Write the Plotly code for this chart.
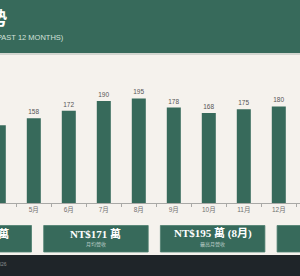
import plotly.graph_objects as go

# ---- data ----
months = ["4月", "5月", "6月", "7月", "8月", "9月", "10月", "11月", "12月"]
revenue = [145, 158, 172, 190, 195, 178, 168, 175, 180]

kpi_values = ["NT$2,052 萬", "NT$171 萬", "NT$195 萬 (8月)", "+12.5%"]
kpi_labels = ["年度總營收", "月均營收", "最高月營收", "年增率"]

title_text = "月營收趨勢"
subtitle_text = "MONTHLY REVENUE (PAST 12 MONTHS)"
footer_text = "資料來源：內部財務報表 · 2026"

# ---- style ----
W, H = 300, 276
PLOT_TOP, PLOT_BOTTOM = 85, 203
GREEN = "#376a5b"
CREAM = "#f5f2ed"
DARK = "#1f2529"
CJK = "Liberation Sans, Noto Sans CJK TC, sans-serif"
SERIF = "Liberation Serif, Noto Sans CJK TC, serif"


def px(x):
    return x / W


def py(y):
    return (PLOT_BOTTOM - y) / (PLOT_BOTTOM - PLOT_TOP)


fig = go.Figure()
fig.add_trace(go.Bar(
    x=months, y=revenue,
    marker=dict(color=GREEN, line=dict(width=0)),
    text=[str(v) for v in revenue],
    textposition="outside",
    textfont=dict(size=6.5, color="#555555", family=CJK),
    cliponaxis=False,
    hoverinfo="skip",
))

shapes = []
# header band
shapes.append(dict(type="rect", xref="paper", yref="paper", x0=px(-5), x1=px(W + 5),
                   y0=py(53), y1=py(-5), fillcolor=GREEN, line=dict(width=0), layer="below"))
shapes.append(dict(type="rect", xref="paper", yref="paper", x0=px(-5), x1=px(W + 5),
                   y0=py(55), y1=py(53), fillcolor="#d3d6d0", line=dict(width=0), layer="below"))
# footer band
shapes.append(dict(type="rect", xref="paper", yref="paper", x0=px(-5), x1=px(W + 5),
                   y0=py(H + 5), y1=py(255), fillcolor=DARK, line=dict(width=0), layer="below"))

annotations = []
# KPI boxes
box_w, pitch, first_left = 104.5, 116.7, -73.0
for i, (v, lab) in enumerate(zip(kpi_values, kpi_labels)):
    x0 = first_left + i * pitch
    x1 = x0 + box_w
    cx = (x0 + x1) / 2
    shapes.append(dict(type="rect", xref="paper", yref="paper", x0=px(x0), x1=px(x1),
                       y0=py(252), y1=py(225.5), fillcolor=GREEN,
                       line=dict(width=0.8, color="#4d7d6f")))
    annotations.append(dict(xref="paper", yref="paper", x=px(cx), y=py(233.5),
                            text=f"<b>{v}</b>", showarrow=False, xanchor="center", yanchor="middle",
                            font=dict(family=SERIF, size=11, color="#ffffff")))
    annotations.append(dict(xref="paper", yref="paper", x=px(cx), y=py(244.5),
                            text=lab, showarrow=False, xanchor="center", yanchor="middle",
                            font=dict(family=CJK, size=5, color="#b9cdc6")))

# title & subtitle (cropped at the left edge as in the reference)
annotations.append(dict(xref="paper", yref="paper", x=px(8.5), y=py(19), text=f"<b>{title_text}</b>",
                        showarrow=False, xanchor="right", yanchor="middle",
                        font=dict(family=CJK, size=18, color="#ffffff")))
annotations.append(dict(xref="paper", yref="paper", x=px(66), y=py(37.5), text=subtitle_text,
                        showarrow=False, xanchor="right", yanchor="middle",
                        font=dict(family=CJK, size=7.5, color="#d2e0da")))
annotations.append(dict(xref="paper", yref="paper", x=px(8.5), y=py(264), text=footer_text,
                        showarrow=False, xanchor="right", yanchor="middle",
                        font=dict(family=CJK, size=5, color="#8a8f92")))

# visible category window: 4月 centre at x≈-1.2 px, 35 px per category
slot = 35.0
c0 = -1.2
x_range = [(0 - c0) / slot, (W - c0) / slot]

fig.update_layout(
    width=W, height=H,
    margin=dict(l=0, r=0, t=PLOT_TOP, b=H - PLOT_BOTTOM, pad=0),
    paper_bgcolor=CREAM, plot_bgcolor=CREAM,
    showlegend=False,
    bargap=0.6,
    shapes=shapes,
    annotations=annotations,
    xaxis=dict(type="category", range=x_range, showline=True, linecolor="#a9a9a6", linewidth=1,
               ticks="outside", tickson="boundaries", ticklen=3, tickcolor="#a9a9a6",
               tickfont=dict(family=CJK, size=6.5, color="#707070"), showgrid=False,
               automargin=False, fixedrange=True),
    yaxis=dict(range=[0, 220], visible=False, showgrid=False, zeroline=False,
               automargin=False, fixedrange=True),
)

fig.write_html("out.html", config={"displayModeBar": False})
